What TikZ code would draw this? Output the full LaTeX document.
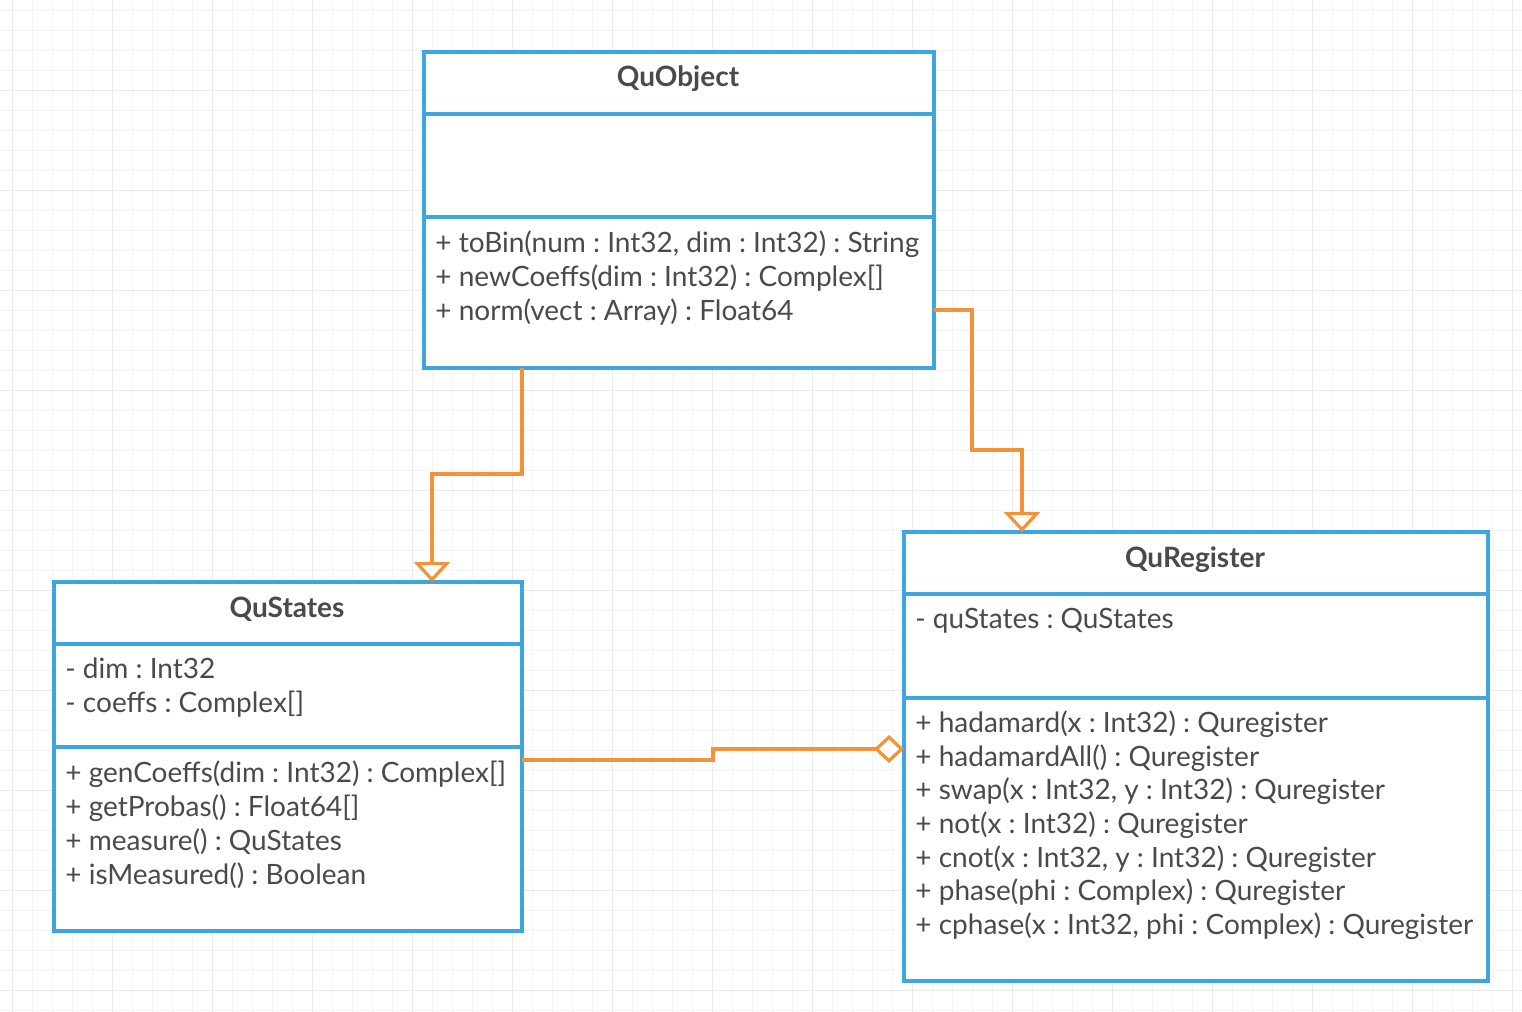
\documentclass[tikz,border=0pt]{standalone}
\usepackage{fontspec}
\setmainfont{Lato}
\frenchspacing
\usetikzlibrary{positioning,arrows.meta}
\definecolor{umlblue}{HTML}{3DA6DF}
\definecolor{umlorange}{HTML}{F39339}
\definecolor{umltext}{HTML}{4A4A4A}
\definecolor{gridminor}{HTML}{F4F4F4}
\definecolor{gridmajor}{HTML}{EBEBEB}
\tikzstyle{classbox} = [draw=umlblue, line width=2pt, fill=white, anchor=north west, inner sep=0pt, outer sep=0pt]
\tikzstyle{divider} = [draw=umlblue, line width=2pt]
\tikzstyle{title} = [anchor=base, text=umltext, font=\fontsize{14}{16}\selectfont\bfseries, inner sep=0pt]
\tikzstyle{member} = [anchor=base west, text=umltext, font=\fontsize{14}{16}\selectfont, inner sep=0pt]
\tikzstyle{link} = [draw=umlorange, line width=1.6pt]
\tikzstyle{inherit} = [link, -{Triangle[open, length=10pt, width=18pt, fill=white]}]
\tikzstyle{aggreg} = [link, -{Diamond[open, length=15pt, width=14pt, fill=white]}]

\begin{document}
\begin{tikzpicture}[x=0.5pt, y=-0.5pt]
    \useasboundingbox (0,0) rectangle (1522,1012);
    \fill[white] (0,0) rectangle (1522,1012);
    % background grid
    \foreach \gx in {12,32,...,1512}
        \draw[gridminor, line width=0.5pt] (\gx,0) -- (\gx,1012);
    \foreach \gy in {10,30,...,1010}
        \draw[gridminor, line width=0.5pt] (0,\gy) -- (1522,\gy);
    \foreach \gx in {12,112,...,1512}
        \draw[gridmajor, line width=0.5pt] (\gx,0) -- (\gx,1012);
    \foreach \gy in {90,190,...,990}
        \draw[gridmajor, line width=0.5pt] (0,\gy) -- (1522,\gy);

    % QuObject
    \node[classbox, minimum width=255pt, minimum height=158pt] (quobject) at (424,52) {};
    \draw[divider] (quobject.west |- 0,114) -- (quobject.east |- 0,114);
    \draw[divider] (quobject.west |- 0,217) -- (quobject.east |- 0,217);
    \node[title] (quobjectname) at (678,86) {QuObject};
    \node[member] (tobin) at (435,252) {+ toBin(num : Int32, dim : Int32) : String};
    \node[member] (newcoeffs) at (435,286) {+ newCoeffs(dim : Int32) : Complex[]};
    \node[member] (norm) at (435,320) {+ norm(vect : Array) : Float64};

    % QuStates
    \node[classbox, minimum width=234pt, minimum height=174.5pt] (qustates) at (54,582) {};
    \draw[divider] (qustates.west |- 0,644) -- (qustates.east |- 0,644);
    \draw[divider] (qustates.west |- 0,747) -- (qustates.east |- 0,747);
    \node[title] (qustatesname) at (287,617) {QuStates};
    \node[member] (dim) at (65,678) {- dim : Int32};
    \node[member] (coeffs) at (65,712) {- coeffs : Complex[]};
    \node[member] (gencoeffs) at (65,782) {+ genCoeffs(dim : Int32) : Complex[]};
    \node[member] (getprobas) at (65,816) {+ getProbas() : Float64[]};
    \node[member] (measure) at (65,850) {+ measure() : QuStates};
    \node[member] (ismeasured) at (65,884) {+ isMeasured() : Boolean};

    % QuRegister
    \node[classbox, minimum width=292pt, minimum height=224.5pt] (quregister) at (904,532) {};
    \draw[divider] (quregister.west |- 0,594) -- (quregister.east |- 0,594);
    \draw[divider] (quregister.west |- 0,698) -- (quregister.east |- 0,698);
    \node[title] (quregistername) at (1195,567) {QuRegister};
    \node[member] (qustatesattr) at (915,628) {- quStates : QuStates};
    \node[member] (hadamard) at (915,732) {+ hadamard(x : Int32) : Quregister};
    \node[member] (hadamardall) at (915,766) {+ hadamardAll() : Quregister};
    \node[member] (swap) at (915,799) {+ swap(x : Int32, y : Int32) : Quregister};
    \node[member] (not) at (915,833) {+ not(x : Int32) : Quregister};
    \node[member] (cnot) at (915,867) {+ cnot(x : Int32, y : Int32) : Quregister};
    \node[member] (phase) at (915,900) {+ phase(phi : Complex) : Quregister};
    \node[member] (cphase) at (915,934) {+ cphase(x : Int32, phi : Complex) : Quregister};

    % connectors
    \draw[inherit] (quobject.south -| 522,0) |- (432,474) -- (qustates.north -| 432,0);
    \draw[inherit] (quobject.east |- 0,310) -| (972,450) -| (quregister.north -| 1022,0);
    \draw[aggreg] (qustates.east |- 0,760) -| (713,749) -- (quregister.west |- 0,749);
\end{tikzpicture}
\end{document}
